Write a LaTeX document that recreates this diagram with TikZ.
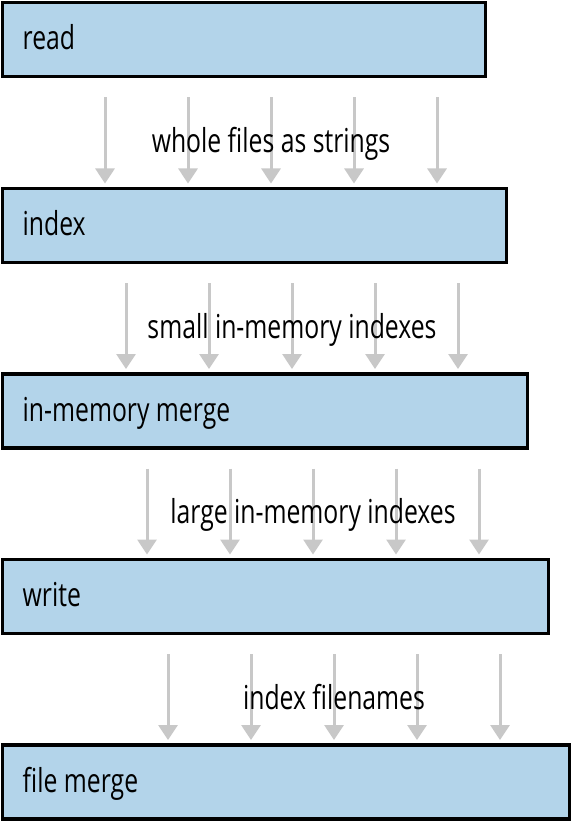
\documentclass[tikz,border=0pt]{standalone}
\usepackage{fontspec}
\setmainfont[FakeStretch=0.75]{Open Sans}
\usetikzlibrary{arrows.meta,calc}
\definecolor{boxblue}{HTML}{B3D4EA}
\definecolor{arrgray}{HTML}{C8C8C8}
\tikzset{
  stagebox/.style={draw=black, line width=3.5pt, fill=boxblue, rectangle, anchor=north west, minimum height=74pt, inner sep=0pt},
  stagetext/.style={anchor=base west, inner sep=0pt, font=\fontsize{33}{33}\selectfont},
  flowlabel/.style={anchor=base, inner sep=0pt, font=\fontsize{33}{33}\selectfont},
  flowarr/.style={draw=arrgray, line width=3pt, -{Triangle[width=19pt,length=15pt]}, shorten <=19pt, shorten >=3pt},
}
\begin{document}
\begin{tikzpicture}[x=1pt,y=-1pt]
\useasboundingbox (0,0) rectangle (572,821);
\foreach \i/\w/\t in {1/483/read,2/504/index,3/525/in-memory merge,4/546/write,5/567/file merge}{
  \node[stagebox, minimum width=\w pt] (b\i) at (0.5, {1+185.5*(\i-1)}) {};
  \node[stagetext] (t\i) at ($(b\i.north west)+(22,49)$) {\t};
}
\foreach \i/\j/\l in {1/2/whole files as strings,2/3/small in-memory indexes,3/4/large in-memory indexes,4/5/index filenames}{
  \foreach \k in {0,...,4}{
    \coordinate (x\i\k) at ({105+21*(\i-1)+83*\k}, 0);
    \draw[flowarr] (b\i.south -| x\i\k) -- (b\j.north -| x\i\k);
  }
  \node[flowlabel] (l\i) at ($(b\j.north -| x\i2)+(0,-34)$) {\l};
}
\end{tikzpicture}
\end{document}
